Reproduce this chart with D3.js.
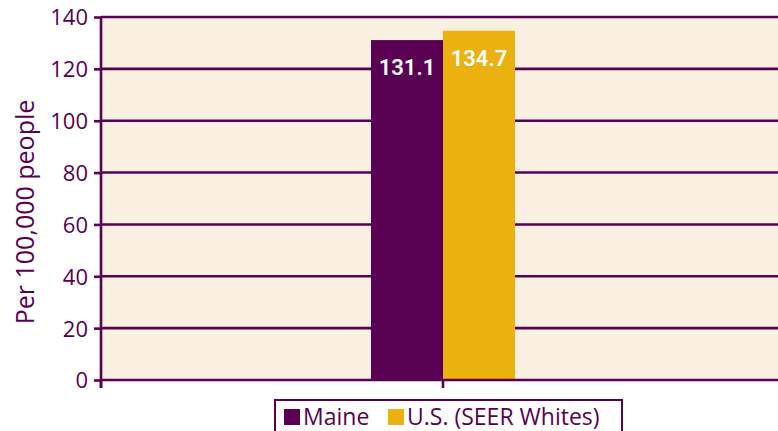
<!DOCTYPE html>
<html>
<head>
<meta charset="utf-8">
<script src="https://cdn.jsdelivr.net/npm/d3@7"></script>
<style>
  body { margin: 0; background: #fff; }
  svg text { font-family: "Open Sans", "Noto Sans", sans-serif; }
</style>
</head>
<body>
<div id="chart"></div>
<script>
// Data
var categories = [""];
var seriesNames = ["Maine", "U.S. (SEER Whites)"];
var seriesValues = [131.1, 134.7];
var seriesColors = ["#5a0052", "#ebb10f"];
var yTicks = [0, 20, 40, 60, 80, 100, 120, 140];

var svgWidth = 778, svgHeight = 431;
var purple = "#5a0052";

// plot area (right side runs past the window edge)
var plot = { left: 101, top: 17, right: 785, bottom: 380 };

var svg = d3.select("#chart").append("svg")
    .attr("width", svgWidth).attr("height", svgHeight);

var xScale = d3.scaleBand()
    .domain(categories)
    .range([plot.left, plot.right])
    .paddingOuter(0).paddingInner(0);

// inner scale for the two series, bars sit side by side in the middle
var xInner = d3.scaleBand()
    .domain(seriesNames)
    .range([0, xScale.bandwidth()])
    .paddingInner(0).paddingOuter(3.75);

var yScale = d3.scaleLinear()
    .domain([0, 140])
    .range([plot.bottom, plot.top]);

// background
svg.append("rect")
    .attr("x", plot.left).attr("y", plot.top)
    .attr("width", plot.right - plot.left).attr("height", plot.bottom - plot.top)
    .attr("fill", "#f9f0e1");

// gridlines
svg.append("g").selectAll("line")
    .data(yTicks.filter(d => d > 0))
    .enter().append("line")
    .attr("x1", plot.left).attr("x2", plot.right)
    .attr("y1", d => yScale(d)).attr("y2", d => yScale(d))
    .attr("stroke", purple).attr("stroke-width", 2.6);

// bars
var data = seriesNames.map((name, i) => ({ name: name, value: seriesValues[i], color: seriesColors[i] }));

svg.append("g").selectAll("rect")
    .data(data)
    .enter().append("rect")
    .attr("x", d => xScale(categories[0]) + xInner(d.name))
    .attr("y", d => yScale(d.value))
    .attr("width", xInner.bandwidth())
    .attr("height", d => yScale(0) - yScale(d.value))
    .attr("fill", d => d.color);

// value labels inside bars
svg.append("g").selectAll("text")
    .data(data)
    .enter().append("text")
    .attr("x", d => xScale(categories[0]) + xInner(d.name) + xInner.bandwidth() / 2)
    .attr("y", d => yScale(d.value) + 35)
    .attr("text-anchor", "middle")
    .attr("fill", "#fff")
    .attr("font-size", 22)
    .attr("font-weight", 600)
    .style("font-family", "Roboto, sans-serif")
    .text(d => d.value.toFixed(1));

// y axis
var yAxis = d3.axisLeft(yScale).tickValues(yTicks).tickSize(7).tickPadding(6);
var yG = svg.append("g").attr("transform", `translate(${plot.left}, 0)`).call(yAxis);
yG.attr("font-family", null).attr("font-size", null);
yG.select(".domain").attr("stroke", purple).attr("stroke-width", 2.6)
    .attr("d", `M0,${plot.top}V${plot.bottom + 8}`);
yG.selectAll(".tick line").attr("stroke", purple).attr("stroke-width", 2.6);
yG.selectAll(".tick text").attr("fill", purple).attr("font-size", 22).attr("dy", "0.36em");

// x axis
var xG = svg.append("g").attr("transform", `translate(0, ${plot.bottom})`);
xG.append("line")
    .attr("x1", plot.left).attr("x2", plot.right)
    .attr("stroke", purple).attr("stroke-width", 2.6);
xG.selectAll("line.tick")
    .data([plot.left, xScale(categories[0]) + xScale.bandwidth() / 2])
    .enter().append("line")
    .attr("class", "tick")
    .attr("x1", d => d).attr("x2", d => d)
    .attr("y1", 0).attr("y2", 8)
    .attr("stroke", purple).attr("stroke-width", 2.6);

// y axis title
svg.append("text")
    .attr("transform", `translate(34, 212) rotate(-90)`)
    .attr("text-anchor", "middle")
    .attr("fill", purple)
    .attr("font-size", 25)
    .text("Per 100,000 people");

// legend
var legend = svg.append("g").attr("transform", "translate(275, 400)");
legend.append("rect")
    .attr("x", 0).attr("y", 0).attr("width", 347).attr("height", 40)
    .attr("fill", "#fff").attr("stroke", purple).attr("stroke-width", 2);

var legendX = [9, 113];
data.forEach((d, i) => {
    var item = legend.append("g").attr("transform", `translate(${legendX[i]}, 9)`);
    item.append("rect")
        .attr("width", 16).attr("height", 16)
        .attr("fill", d.color);
    item.append("text")
        .attr("x", 19).attr("y", 16)
        .attr("fill", purple)
        .attr("font-size", 23)
        .text(d.name);
});
</script>
</body>
</html>
